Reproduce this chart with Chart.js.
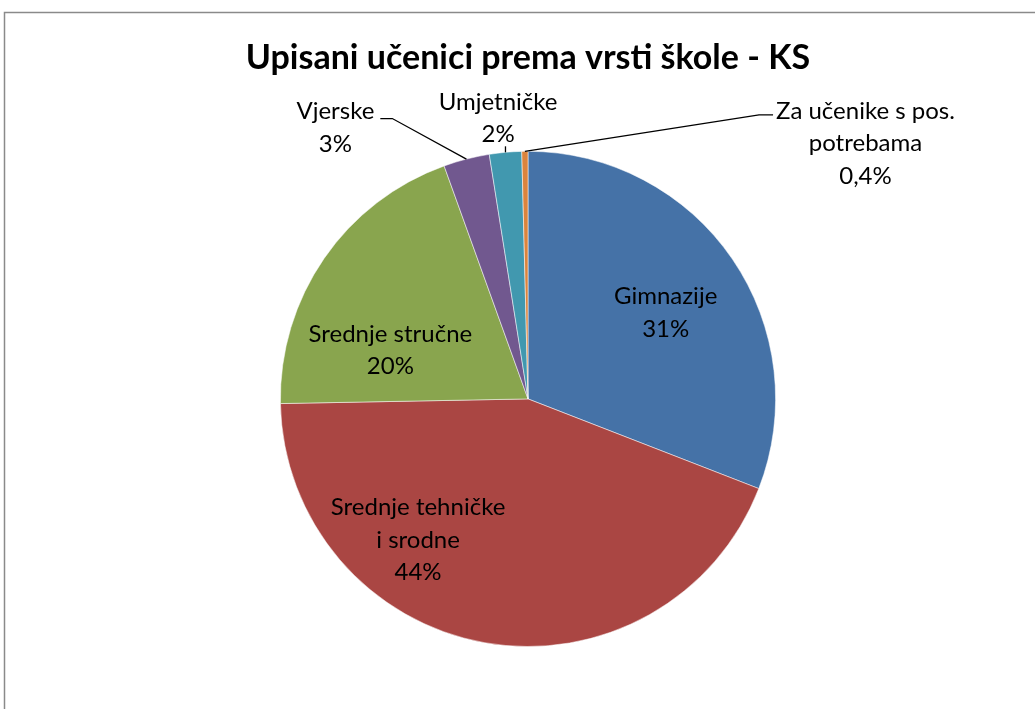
<!DOCTYPE html>
<html><head><meta charset="utf-8">
<script src="https://cdn.jsdelivr.net/npm/chart.js@4"></script>
<style>html,body{margin:0;padding:0;background:#fff;}#wrap{width:1035px;height:709px;}</style>
</head><body><div id="wrap"><canvas id="c" width="1035" height="709"></canvas></div>
<script>
const categories = ["Gimnazije", "Srednje tehničke i srodne", "Srednje stručne", "Vjerske", "Umjetničke", "Za učenike s pos. potrebama"];
const values = [30.9, 43.8, 19.8, 3.0, 2.1, 0.4];
const percentLabels = ["31%", "44%", "20%", "3%", "2%", "0,4%"];
const labelLines = [["Gimnazije"], ["Srednje tehničke", "i srodne"], ["Srednje stručne"], ["Vjerske"], ["Umjetničke"], ["Za učenike s pos.", "potrebama"]];
const colors = ["#4572A7", "#AA4643", "#89A54E", "#71588F", "#4198AF", "#DB843D"];

const FONT = "Lato, 'Open Sans', sans-serif";
// label block centers in radius units relative to pie center
const labelOffsets = [[0.556, -0.347], [-0.444, 0.569], [-0.556, -0.196], [-0.778, -1.095], [-0.121, -1.133], [1.363, -1.032]];
const leaderKinds = [null, null, null, "left", "tick", "right"];

const framePlugin = {
  id: 'frame',
  beforeDraw(chart) {
    const ctx = chart.ctx;
    ctx.save();
    ctx.fillStyle = '#fff';
    ctx.fillRect(0, 0, chart.width, chart.height);
    ctx.strokeStyle = '#8a8a8a';
    ctx.lineWidth = 1.5;
    ctx.strokeRect(4.5, 12.5, 2000, 2000);
    ctx.restore();
  }
};

const labelPlugin = {
  id: 'pieLabels',
  afterDatasetsDraw(chart) {
    const ctx = chart.ctx;
    const meta = chart.getDatasetMeta(0);
    const arc0 = meta.data[0];
    const cx = arc0.x, cy = arc0.y, r = arc0.outerRadius;
    ctx.save();
    ctx.font = "24px " + FONT;
    ctx.fillStyle = '#000';
    ctx.textAlign = 'center';
    ctx.textBaseline = 'middle';
    const lh = 32.5;
    meta.data.forEach((arc, i) => {
      const lines = labelLines[i].concat([percentLabels[i]]);
      const lx = cx + labelOffsets[i][0] * r;
      const ly = cy + labelOffsets[i][1] * r;
      const top = ly - (lines.length - 1) * lh / 2;
      lines.forEach((t, k) => ctx.fillText(t, lx, top + k * lh));
      const mid = (arc.startAngle + arc.endAngle) / 2;
      const ex = cx + Math.cos(mid) * r, ey = cy + Math.sin(mid) * r;
      ctx.strokeStyle = '#000';
      ctx.lineWidth = 1.3;
      if (leaderKinds[i] === 'left') {
        const w = ctx.measureText(labelLines[i][0]).width;
        const sx = lx + w / 2 + 6, sy = top + 7;
        ctx.beginPath(); ctx.moveTo(sx, sy); ctx.lineTo(sx + 12, sy); ctx.lineTo(ex, ey); ctx.stroke();
      } else if (leaderKinds[i] === 'right') {
        const w = ctx.measureText(labelLines[i][0]).width;
        const sx = lx - w / 2 - 3, sy = top + 4;
        ctx.beginPath(); ctx.moveTo(sx, sy); ctx.lineTo(sx - 14, sy); ctx.lineTo(ex, ey); ctx.stroke();
      } else if (leaderKinds[i] === 'tick') {
        ctx.beginPath(); ctx.moveTo(ex, ey); ctx.lineTo(ex, ey - 6); ctx.stroke();
      }
    });
    ctx.restore();
  }
};

new Chart(document.getElementById('c'), {
  type: 'pie',
  data: {
    labels: categories,
    datasets: [{ data: values, backgroundColor: colors, borderColor: 'rgba(255,255,255,0.5)', borderWidth: 1 }]
  },
  options: {
    responsive: false,
    animation: false,
    layout: { padding: { left: 21, right: 0, top: 0, bottom: 62 } },
    plugins: {
      legend: { display: false },
      tooltip: { enabled: false },
      title: {
        display: true,
        text: 'Upisani učenici prema vrsti škole - KS',
        color: '#000',
        font: { family: FONT, size: 34, weight: 'bold', lineHeight: 1.2 },
        padding: { top: 38, bottom: 72 }
      }
    }
  },
  plugins: [framePlugin, labelPlugin]
});
</script></body></html>
